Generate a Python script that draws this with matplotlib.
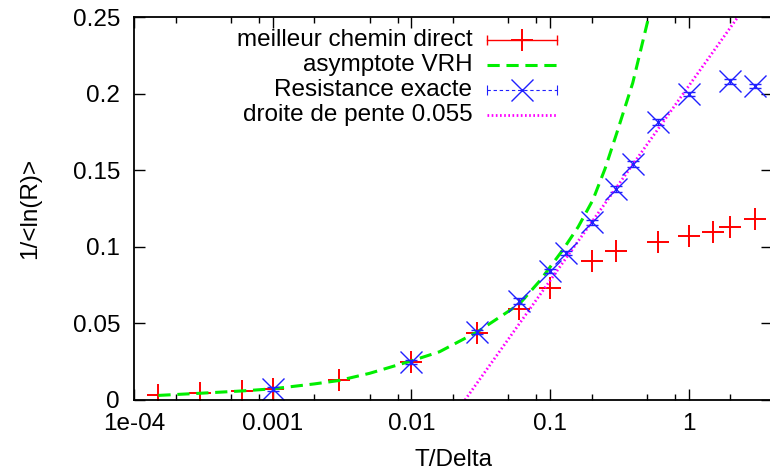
import matplotlib
matplotlib.use('Agg')
import matplotlib.pyplot as plt
from matplotlib.ticker import FixedLocator, FixedFormatter, NullFormatter

FS = 17.5
plt.rcParams['font.family'] = ['Liberation Sans', 'DejaVu Sans']
plt.rcParams['font.size'] = FS

# ---------------- data ----------------
direct_x = [1.5e-4, 3e-4, 6e-4, 1e-3, 3e-3, 1e-2, 3e-2, 6e-2, 0.1, 0.2, 0.3, 0.6, 1.0, 1.5, 2.0, 3.0]
direct_y = [0.0033, 0.0046, 0.0059, 0.0072, 0.013, 0.0248, 0.0437, 0.0594, 0.0731,
            0.0907, 0.0973, 0.103, 0.107, 0.1097, 0.113, 0.118]

exact_x = [1e-3, 1e-2, 3e-2, 6e-2, 0.1, 0.13, 0.2, 0.3, 0.4, 0.6, 1.0, 2.0, 3.0]
exact_y = [0.0072, 0.0248, 0.0444, 0.0646, 0.0842, 0.0959, 0.116, 0.1377, 0.154,
           0.1814, 0.1997, 0.208, 0.205]
exact_err = [0.001, 0.001, 0.0015, 0.002, 0.0015, 0.0015, 0.0015, 0.002, 0.002,
             0.002, 0.0015, 0.0015, 0.0015]

vrh_x = [1.5e-4, 3e-4, 6e-4, 1e-3, 2e-3, 3e-3, 5e-3, 0.01, 0.016, 0.03, 0.06, 0.085,
         0.124, 0.16, 0.204, 0.25, 0.303, 0.396, 0.516]
vrh_y = [0.0030, 0.0044, 0.0059, 0.0073, 0.0105, 0.0127, 0.0174, 0.0255, 0.0315, 0.0445,
         0.0625, 0.078, 0.098, 0.113, 0.1305, 0.151, 0.174, 0.207, 0.25]

slope_x = [0.0244, 2.27]
slope_y = [0.0, 0.25]

labels = ['meilleur chemin direct', 'asymptote VRH', 'Resistance exacte', 'droite de pente 0.055']

xticks = [1e-4, 1e-3, 1e-2, 1e-1, 1.0]
xtick_labels = ['1e-04', '0.001', '0.01', '0.1', '1']
xminor = [2e-4, 5e-4, 8e-4, 2e-3, 5e-3, 8e-3, 2e-2, 5e-2, 8e-2, 0.2, 0.5, 0.8, 2.0]
yticks = [0, 0.05, 0.1, 0.15, 0.2, 0.25]
ytick_labels = ['0', '0.05', '0.1', '0.15', '0.2', '0.25']

RED = '#ff0000'
GREEN = '#00ee00'
BLUE = '#2020ff'
MAGENTA = '#ff00ff'

fig = plt.figure(figsize=(7.7, 4.7), dpi=100)
ax = fig.add_axes([134 / 770, 70 / 470, 638 / 770, 383 / 470])
ax.set_xscale('log')
ax.set_xlim(1e-4, 4.0)
ax.set_ylim(0, 0.25)

ax.plot(direct_x, direct_y, linestyle='none', marker='+', ms=16, mew=1.4, color=RED)
ax.plot(vrh_x, vrh_y, color=GREEN, lw=2.2, dashes=(4, 2.2))
ax.errorbar(exact_x, exact_y, yerr=exact_err, fmt='x', ms=16, mew=1.0, color=BLUE,
            ecolor=BLUE, elinewidth=0.8, capsize=4, capthick=0.8)
ax.plot(slope_x, slope_y, color=MAGENTA, lw=2.0, linestyle=(0, (0.6, 0.9)))

# ticks
ax.xaxis.set_major_locator(FixedLocator(xticks))
ax.xaxis.set_major_formatter(FixedFormatter(xtick_labels))
ax.xaxis.set_minor_locator(FixedLocator(xminor))
ax.xaxis.set_minor_formatter(NullFormatter())
ax.yaxis.set_major_locator(FixedLocator(yticks))
ax.yaxis.set_major_formatter(FixedFormatter(ytick_labels))
ax.yaxis.set_minor_locator(FixedLocator([]))
ax.tick_params(which='major', direction='in', length=8, width=1.0, top=True, right=True,
               labelsize=FS, color='black')
ax.tick_params(which='minor', direction='in', length=4.5, width=1.0, top=True, right=True)
ax.tick_params(axis='x', pad=9)
ax.tick_params(axis='y', pad=10)
for s in ax.spines.values():
    s.set_linewidth(1.3)

ax.set_xlabel('T/Delta', fontsize=FS)
ax.set_ylabel('1/<ln(R)>', fontsize=FS)
ax.xaxis.set_label_coords(0.5, -0.128)
ax.yaxis.set_label_coords(-0.146, 0.5)

# gnuplot-style key: right-aligned text, sample on the right
tx = 0.53
sx0, sx1 = 0.553, 0.663
sxm = (sx0 + sx1) / 2
rows = [0.940, 0.875, 0.809, 0.744]
T = ax.transAxes
for lab, yy in zip(labels, rows):
    ax.text(tx, yy, lab, transform=T, ha='right', va='center', fontsize=FS)

# red errorbar sample
y0 = rows[0]
ax.plot([sx0, sx1], [y0, y0], color=RED, lw=1.0, transform=T, clip_on=False)
ax.plot([sx0, sx1], [y0, y0], linestyle='none', marker='|', ms=7, mew=1.0, color=RED,
        transform=T, clip_on=False)
ax.plot([sxm], [y0], linestyle='none', marker='+', ms=16, mew=1.4, color=RED,
        transform=T, clip_on=False)
# green sample
y1 = rows[1]
ax.plot([sx0, sx1], [y1, y1], color=GREEN, lw=2.2, dashes=(4, 2.2), transform=T, clip_on=False)
# blue sample
y2 = rows[2]
ax.plot([sx0, sx1], [y2, y2], color=BLUE, lw=0.8, dashes=(3, 2.5), transform=T, clip_on=False)
ax.plot([sx0, sx1], [y2, y2], linestyle='none', marker='|', ms=7, mew=0.8, color=BLUE,
        transform=T, clip_on=False)
ax.plot([sxm], [y2], linestyle='none', marker='x', ms=16, mew=1.0, color=BLUE,
        transform=T, clip_on=False)
# magenta sample
y3 = rows[3]
ax.plot([sx0, sx1], [y3, y3], color=MAGENTA, lw=2.0, linestyle=(0, (0.6, 0.9)),
        transform=T, clip_on=False)

fig.savefig('out.png', dpi=100)
